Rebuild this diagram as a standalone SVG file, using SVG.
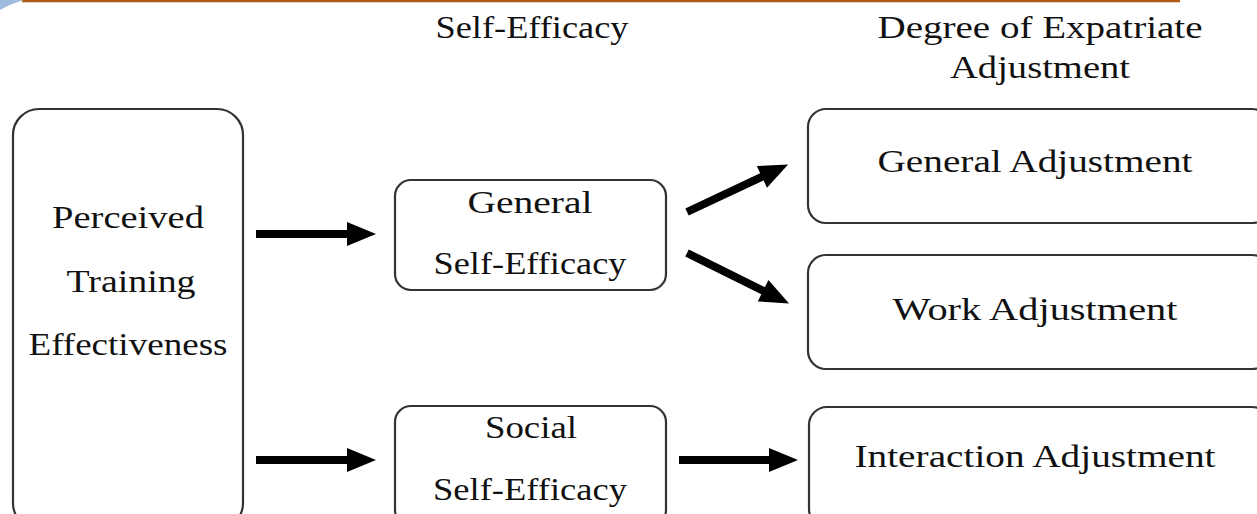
<svg xmlns="http://www.w3.org/2000/svg" width="1257" height="514" viewBox="0 0 1257 514">
<style>
.box{fill:#fff;stroke:#333;stroke-width:2.2}
.t{font-family:"Liberation Serif","Times New Roman",serif;font-size:32px;fill:#111;text-anchor:middle}
.arr{stroke:#000;stroke-width:8;fill:none}
</style>
<defs>
<marker id="ah" markerUnits="userSpaceOnUse" markerWidth="30" markerHeight="26" refX="1" refY="12" orient="auto" overflow="visible">
<path d="M0,0 L29,12 L0,24 Z" fill="#000"/>
</marker>
</defs>
<rect width="1257" height="514" fill="#fff"/>
<line x1="22" y1="1" x2="1180" y2="1" stroke="#b35a12" stroke-width="2.5"/>
<path d="M0,0 L24,0 Q10,4 0,10 Z" fill="#9fbbe0"/>
<g id="header-self-efficacy"><text class="t" x="532" y="38" textLength="193" lengthAdjust="spacingAndGlyphs">Self-Efficacy</text></g>
<g id="header-degree"><text class="t" x="1040" y="38" textLength="325" lengthAdjust="spacingAndGlyphs">Degree of Expatriate</text><text class="t" x="1040" y="78" textLength="180" lengthAdjust="spacingAndGlyphs">Adjustment</text></g>
<g id="perceived">
<rect class="box" x="13" y="109" width="230" height="420" rx="26"/>
<text class="t" x="128" y="228" textLength="152" lengthAdjust="spacingAndGlyphs">Perceived</text>
<text class="t" x="131" y="292" textLength="129" lengthAdjust="spacingAndGlyphs">Training</text>
<text class="t" x="128" y="355" textLength="199" lengthAdjust="spacingAndGlyphs">Effectiveness</text>
</g>
<g id="general-se">
<rect class="box" x="395" y="180" width="271" height="110" rx="16"/>
<text class="t" x="530" y="213" textLength="125" lengthAdjust="spacingAndGlyphs">General</text>
<text class="t" x="530" y="274" textLength="193" lengthAdjust="spacingAndGlyphs">Self-Efficacy</text>
</g>
<g id="social-se">
<rect class="box" x="395" y="406" width="271" height="120" rx="16"/>
<text class="t" x="531" y="438" textLength="92" lengthAdjust="spacingAndGlyphs">Social</text>
<text class="t" x="530" y="500" textLength="194" lengthAdjust="spacingAndGlyphs">Self-Efficacy</text>
</g>
<g id="general-adj">
<rect class="box" x="808" y="109" width="462" height="114" rx="18"/>
<text class="t" x="1035" y="172" textLength="315" lengthAdjust="spacingAndGlyphs">General Adjustment</text>
</g>
<g id="work-adj">
<rect class="box" x="808" y="255" width="462" height="114" rx="18"/>
<text class="t" x="1035" y="320" textLength="285" lengthAdjust="spacingAndGlyphs">Work Adjustment</text>
</g>
<g id="interaction-adj">
<rect class="box" x="809" y="407" width="461" height="120" rx="18"/>
<text class="t" x="1035" y="467" textLength="361" lengthAdjust="spacingAndGlyphs">Interaction Adjustment</text>
</g>
<g id="connectors">
<line class="arr" x1="256" y1="234" x2="348" y2="234" marker-end="url(#ah)"/>
<line class="arr" x1="256" y1="460" x2="348" y2="460" marker-end="url(#ah)"/>
<line class="arr" x1="679" y1="460" x2="770" y2="460" marker-end="url(#ah)"/>
<line class="arr" x1="687" y1="212" x2="762.8" y2="176.4" marker-end="url(#ah)"/>
<line class="arr" x1="687" y1="253" x2="764" y2="291.1" marker-end="url(#ah)"/>
</g>
</svg>
